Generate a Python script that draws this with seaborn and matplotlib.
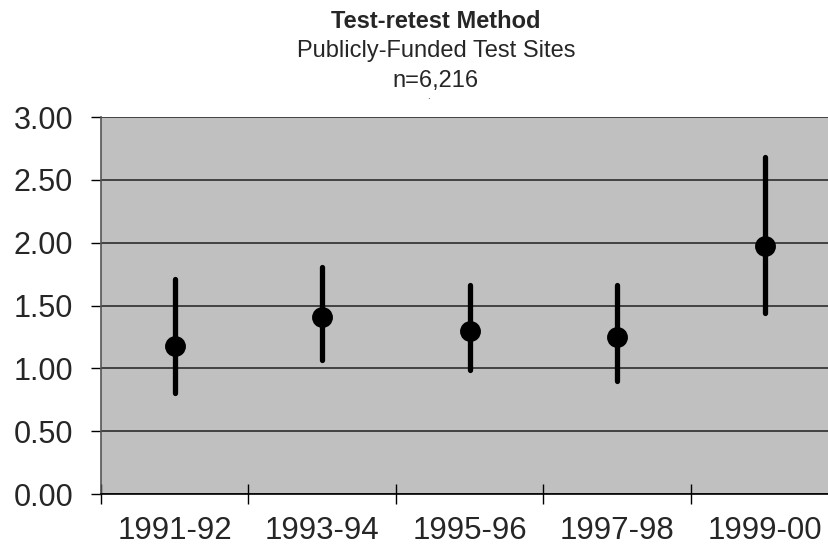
import pandas as pd
import matplotlib.pyplot as plt
import seaborn as sns
from matplotlib.ticker import MultipleLocator, FixedLocator

# Values (point estimate and interval limits)
periods = ['1991-92', '1993-94', '1995-96', '1997-98', '1999-00']
estimate = [1.18, 1.41, 1.30, 1.25, 1.97]
lower = [0.80, 1.07, 0.99, 0.90, 1.44]
upper = [1.71, 1.81, 1.66, 1.66, 2.68]

# long table: median of (low, est, high) = est, 100% interval = low..high
rows = []
for p, lo, e, hi in zip(periods, lower, estimate, upper):
    for v in (lo, e, hi):
        rows.append({'period': p, 'value': v})
df = pd.DataFrame(rows)

sns.set_style('white')
plt.rcParams['font.family'] = ['Liberation Sans', 'DejaVu Sans']

fig = plt.figure(figsize=(8.29, 5.55), dpi=100)
ax = fig.add_axes([101 / 829, 61 / 555, 737.5 / 829, 377 / 555])
ax.set_facecolor('#c0c0c0')

sns.pointplot(data=df, x='period', y='value', order=periods,
              estimator='median', errorbar=('pi', 100),
              linestyle='none', color='black', marker='o', markersize=13,
              err_kws={'linewidth': 3.8, 'solid_capstyle': 'round'},
              capsize=0, ax=ax)

ax.set_xlim(-0.5, 4.5)
ax.set_ylim(0, 3)
ax.yaxis.set_major_locator(MultipleLocator(0.5))
ax.yaxis.set_major_formatter(lambda v, pos: f'{v:.2f}')
ax.grid(axis='y', color='#202020', linewidth=1.1)
ax.set_axisbelow(True)

for s in ('top', 'right'):
    ax.spines[s].set_visible(False)
ax.spines['left'].set_color('#555555')
ax.spines['left'].set_linewidth(1.2)
ax.spines['bottom'].set_color('black')
ax.spines['bottom'].set_linewidth(1.2)

ax.xaxis.set_minor_locator(FixedLocator([-0.5, 0.5, 1.5, 2.5, 3.5]))
ax.tick_params(axis='x', which='major', length=0, pad=15.5, labelsize=22.5)
ax.tick_params(axis='x', which='minor', direction='inout', length=14,
               width=1, color='black', bottom=True)
ax.tick_params(axis='y', which='major', direction='out', length=7,
               width=1, color='black', pad=13, labelsize=22, left=True)
ax.set_xlabel('')
ax.set_ylabel('')

cx = 436 / 829
fig.text(cx, 1 - 28 / 555, 'Test-retest Method', ha='center',
         va='baseline', fontsize=17, fontweight='bold')
fig.text(cx, 1 - 57 / 555, 'Publicly-Funded Test Sites', ha='center',
         va='baseline', fontsize=17)
fig.text(cx, 1 - 87 / 555, 'n=6,216', ha='center',
         va='baseline', fontsize=17)
fig.text(428 / 829, 1 - 99 / 555, '.', ha='center', va='baseline',
         fontsize=7)

fig.savefig('out.png', dpi=100)
